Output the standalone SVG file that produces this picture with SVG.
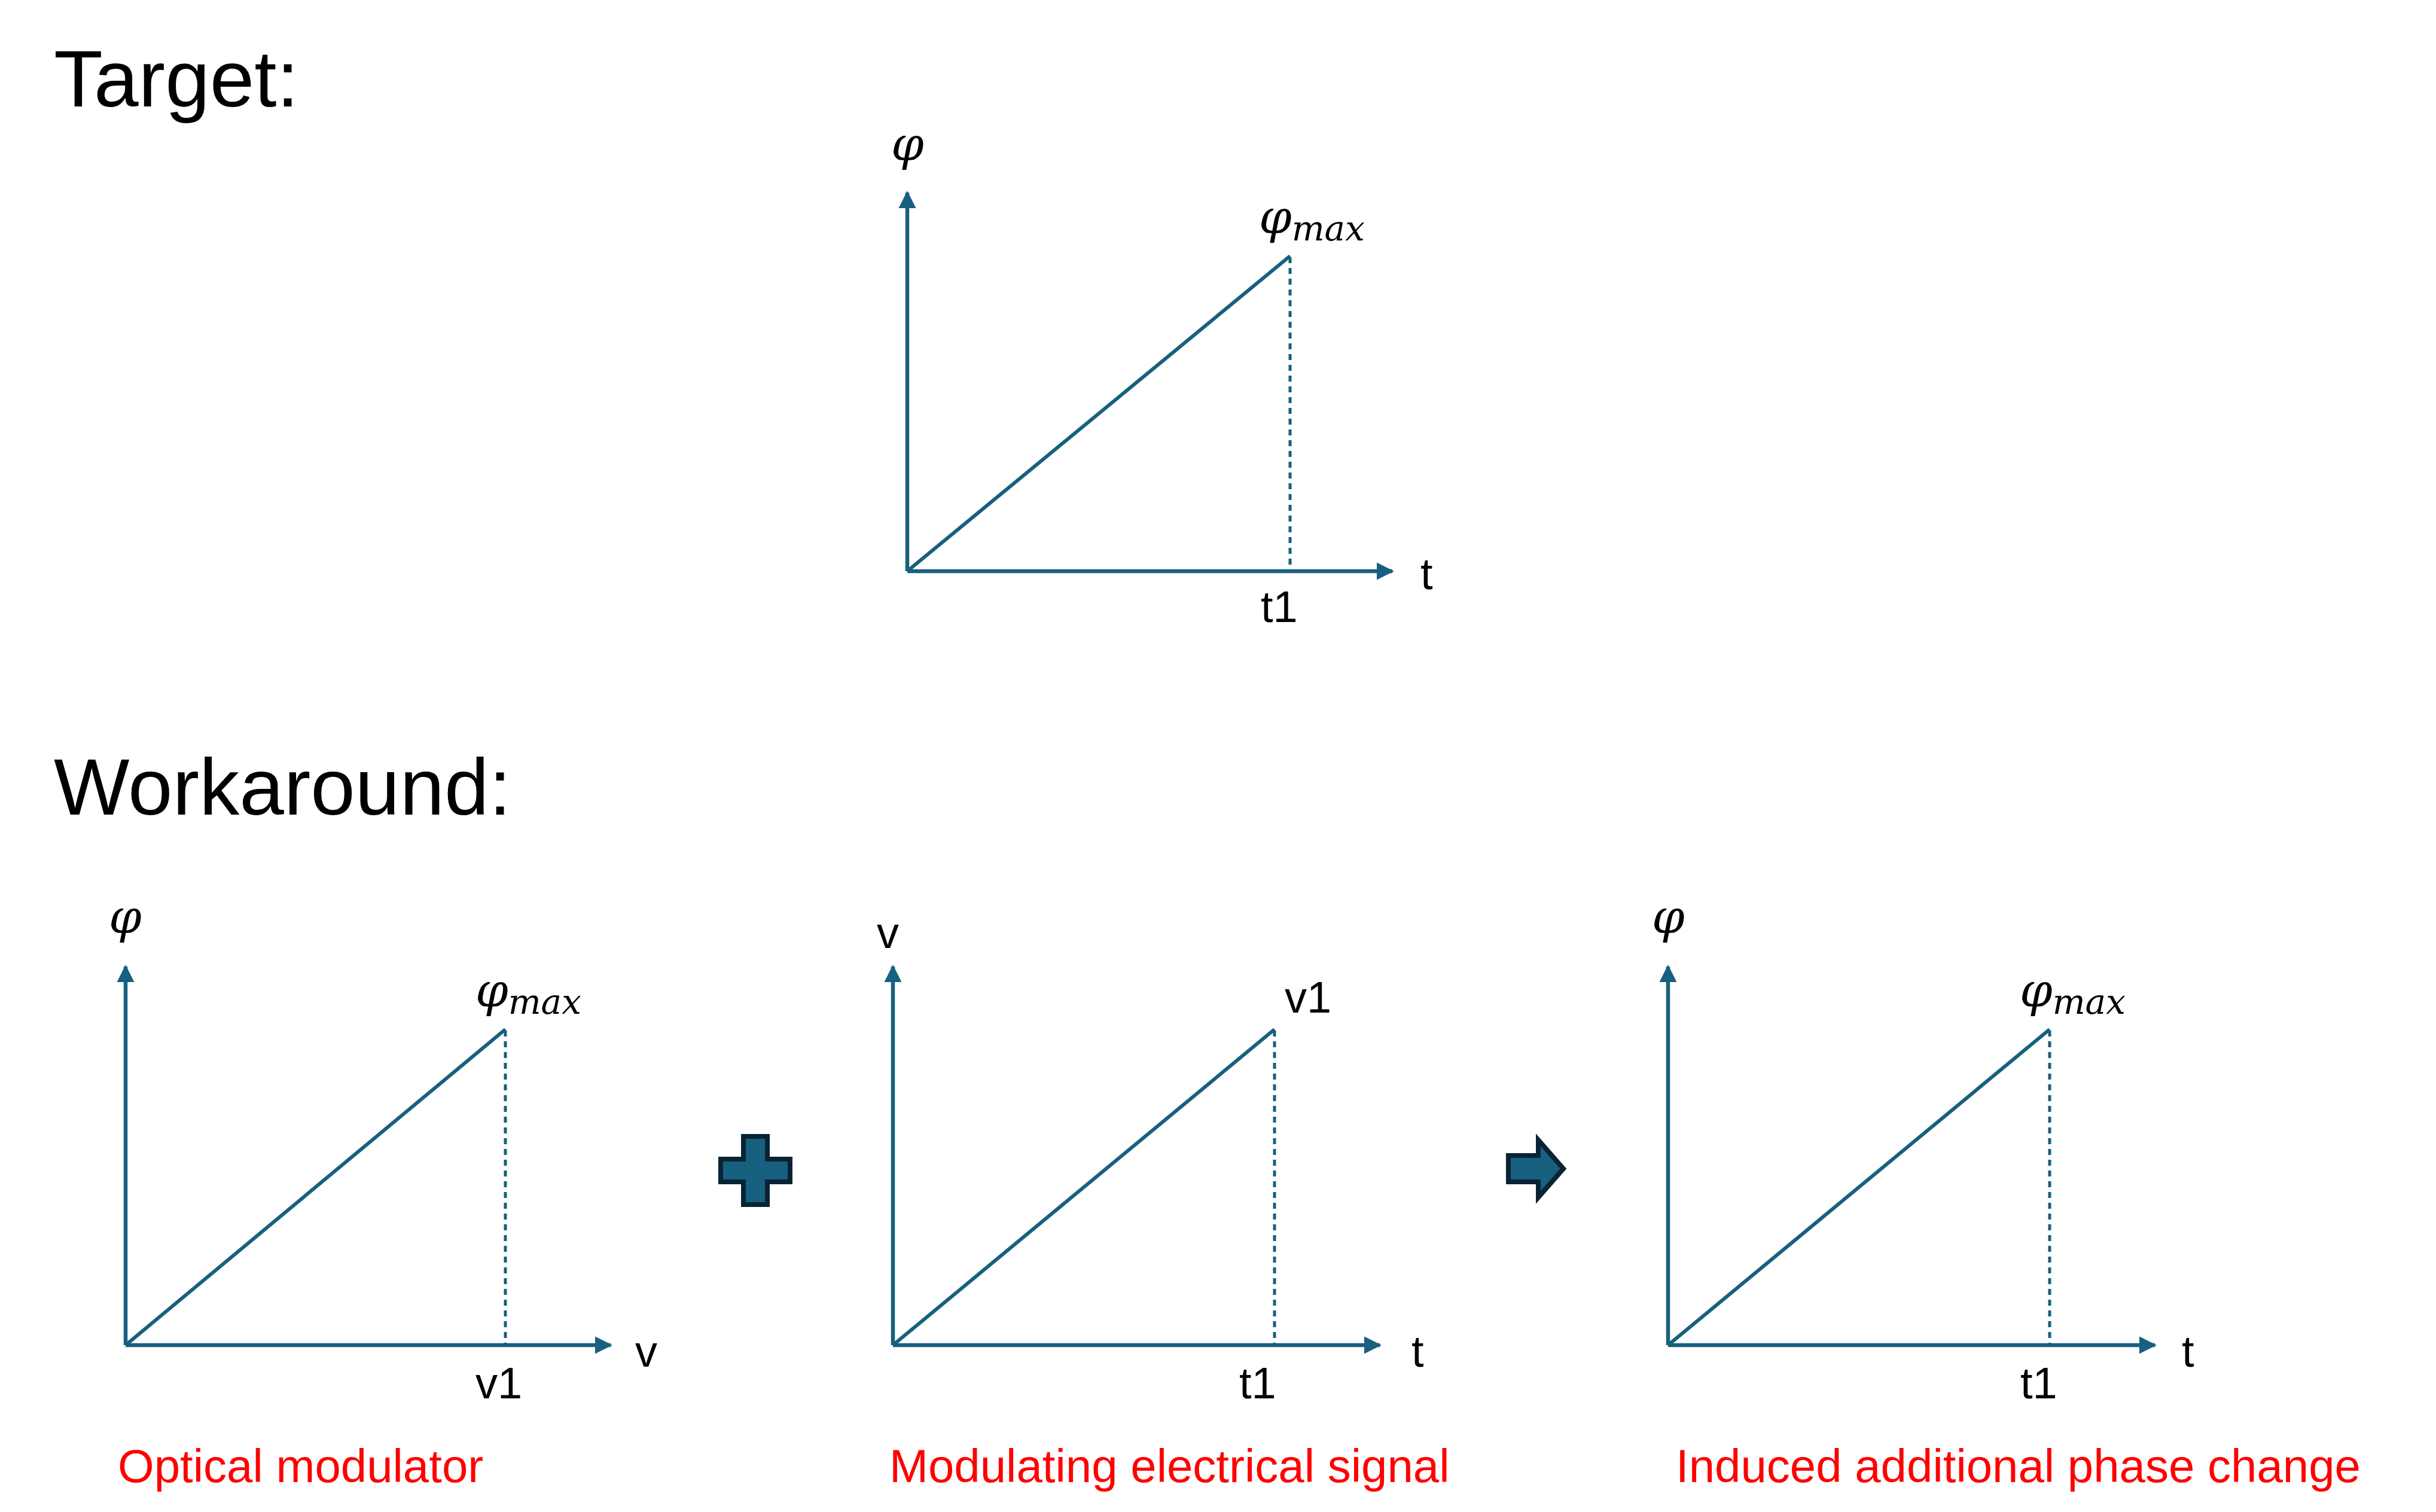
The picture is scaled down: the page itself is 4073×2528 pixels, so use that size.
<svg xmlns="http://www.w3.org/2000/svg" width="4073" height="2528" viewBox="0 0 4073 2528">
<style>
.ax{stroke:#17607F;stroke-width:6.5;fill:none}
.ln{stroke:#17607F;stroke-width:6;fill:none}
.ds{stroke:#17607F;stroke-width:5;stroke-dasharray:10 8;fill:none}
.t{font-family:"Liberation Sans",Arial,sans-serif;fill:#000}
.m{font-family:"DejaVu Serif","Liberation Serif",serif;font-style:italic;fill:#000}
.r{font-family:"Liberation Sans",Arial,sans-serif;fill:#FF0000;font-size:78px}
.s{fill:#17607F;stroke:#082434;stroke-width:8}
</style>
<defs>
<marker id="ah" viewBox="0 0 10 10" refX="9" refY="5" markerWidth="4.5" markerHeight="4.5" orient="auto" markerUnits="strokeWidth"><path d="M0,0L10,5L0,10z" fill="#17607F"/></marker>
</defs>
<rect width="4073" height="2528" fill="#fff"/>
<text class="t" x="90" y="178" font-size="134">Target:</text>
<text class="t" x="90" y="1362" font-size="134">Workaround:</text>
<g id="connectors">
<path class="ax" d="M1517,955V322" marker-end="url(#ah)"/>
<path class="ax" d="M1517,955H2328" marker-end="url(#ah)"/>
<path class="ax" d="M210,2249V1616" marker-end="url(#ah)"/>
<path class="ax" d="M210,2249H1021" marker-end="url(#ah)"/>
<path class="ax" d="M1493,2249V1616" marker-end="url(#ah)"/>
<path class="ax" d="M1493,2249H2307" marker-end="url(#ah)"/>
<path class="ax" d="M2789,2249V1616" marker-end="url(#ah)"/>
<path class="ax" d="M2789,2249H3603" marker-end="url(#ah)"/>
</g>
<g id="target">
<path class="ln" d="M1517,955L2157,428"/><path class="ds" d="M2157,430V952"/>
<text class="m" x="1490" y="268" font-size="78">φ</text>
<text class="m" x="2105" y="390" font-size="78">φ<tspan font-size="58" dy="12">max</tspan></text>
<text class="t" x="2375" y="985" font-size="74">t</text>
<text class="t" x="2108" y="1040" font-size="74">t1</text>
</g>
<g id="modulator">
<path class="ln" d="M210,2249L845,1721"/><path class="ds" d="M845,1723V2246"/>
<text class="m" x="182" y="1560" font-size="78">φ</text>
<text class="m" x="795" y="1683" font-size="78">φ<tspan font-size="58" dy="12">max</tspan></text>
<text class="t" x="1062" y="2285" font-size="74">v</text>
<text class="t" x="795" y="2338" font-size="74">v1</text>
<text class="r" x="197" y="2478">Optical modulator</text>
</g>
<g id="signal">
<path class="ln" d="M1493,2249L2131,1721"/><path class="ds" d="M2131,1723V2246"/>
<text class="t" x="1466" y="1585" font-size="74">v</text>
<text class="t" x="2148" y="1693" font-size="74">v1</text>
<text class="t" x="2360" y="2285" font-size="74">t</text>
<text class="t" x="2072" y="2338" font-size="74">t1</text>
<text class="r" x="1487" y="2478">Modulating electrical signal</text>
</g>
<g id="result">
<path class="ln" d="M2789,2249L3427,1721"/><path class="ds" d="M3427,1723V2246"/>
<text class="m" x="2762" y="1560" font-size="78">φ</text>
<text class="m" x="3377" y="1683" font-size="78">φ<tspan font-size="58" dy="12">max</tspan></text>
<text class="t" x="3648" y="2285" font-size="74">t</text>
<text class="t" x="3378" y="2338" font-size="74">t1</text>
<text class="r" x="2802" y="2478">Induced additional phase change</text>
</g>
<g id="plus"><path class="s" d="M1243,1900h40v38h38v38h-38v38h-40v-38h-38v-38h38z"/></g>
<g id="arrow"><path class="s" d="M2522,1932h50v-26l42,48l-42,48v-26h-50z"/></g>
</svg>
